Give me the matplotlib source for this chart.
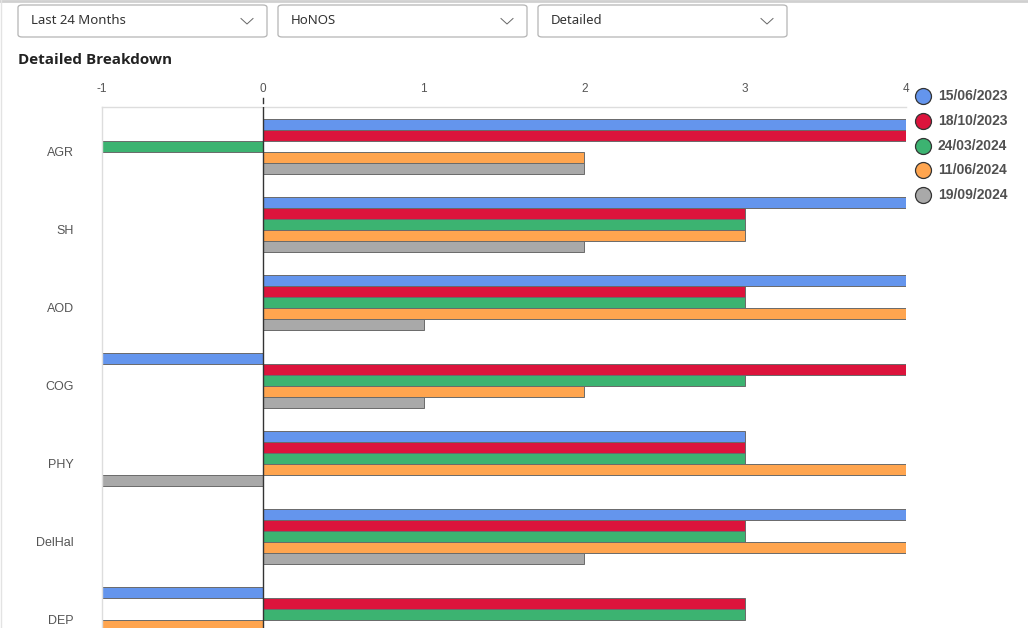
import numpy as np
import matplotlib.pyplot as plt
from matplotlib.patches import FancyBboxPatch
from matplotlib.lines import Line2D
import matplotlib.transforms as mtransforms

categories = ["AGR", "SH", "AOD", "COG", "PHY", "DelHal", "DEP"]
dates = ["15/06/2023", "18/10/2023", "24/03/2024", "11/06/2024", "19/09/2024"]
colors = ["#6495ed", "#dc143c", "#3cb371", "#ffa54f", "#a9a9a9"]

scores = {
    "15/06/2023": [4, 4, 4, -1, 3, 4, -1],
    "18/10/2023": [4, 3, 3, 4, 3, 3, 3],
    "24/03/2024": [-1, 3, 3, 3, 3, 3, 3],
    "11/06/2024": [2, 3, 4, 2, 4, 4, -1],
    "19/09/2024": [2, 2, 1, 1, -1, 2, 2],
}

x_ticks = [-1, 0, 1, 2, 3, 4]
dropdowns = ["Last 24 Months", "HoNOS", "Detailed"]

W, H = 1028, 628
fig = plt.figure(figsize=(W / 100, H / 100), dpi=100)
plt.rcParams["font.family"] = ["Liberation Sans", "DejaVu Sans"]


def fx(px):
    return px / W


def fy(py):
    return 1 - py / H


# page chrome
fig.add_artist(Line2D([0, 1], [fy(0.5), fy(0.5)], color="#d0d0d0", lw=2))
fig.add_artist(Line2D([fx(0.5), fx(0.5)], [0, 1], color="#e3e3e3", lw=1))

for i, label in enumerate(dropdowns):
    x0 = 18 + i * 260
    box = FancyBboxPatch((fx(x0), fy(37)), fx(249), 32 / H,
                         boxstyle="round,pad=0,rounding_size=0.004",
                         transform=fig.transFigure, facecolor="white",
                         edgecolor="#b4b4b4", lw=0.9)
    fig.add_artist(box)
    fig.text(fx(x0 + 13), fy(21), label, fontsize=9.5, color="#333333",
             family=["Noto Sans", "DejaVu Sans"], va="center", ha="left")
    cx = x0 + 229
    fig.add_artist(Line2D([fx(cx - 6), fx(cx), fx(cx + 6)],
                          [fy(18.5), fy(24), fy(18.5)], color="#666666", lw=0.7))

fig.text(fx(18), fy(60), "Detailed Breakdown", fontsize=11, fontweight="bold",
         color="#222222", family=["Open Sans", "DejaVu Sans"],
         va="center", ha="left")

# chart area
pitch = 78.0
ax_top, ax_bot = 107, 628
ax = fig.add_axes([fx(102), 0, fx(906 - 102), fy(ax_top)])
ylow = -0.5 + (ax_bot - ax_top) / pitch
ax.set_xlim(-1, 4)
ax.set_ylim(ylow, -0.5)

bar_h = 11 / pitch
y = np.arange(len(categories))
for j, d in enumerate(dates):
    ax.barh(y + (j - 2) * bar_h, scores[d], height=bar_h, color=colors[j],
            edgecolor="#6a6a6a", linewidth=0.7, zorder=2)

ax.axvline(0, color="#333333", lw=1.0, zorder=3)

for s in ["right", "bottom"]:
    ax.spines[s].set_visible(False)
ax.spines["top"].set_color("#dddddd")
ax.spines["left"].set_color("#dddddd")
ax.spines["top"].set_linewidth(1)
ax.spines["left"].set_linewidth(1)

ax.xaxis.tick_top()
ax.set_xticks(x_ticks)
ax.set_xticklabels([str(t) for t in x_ticks])
ax.tick_params(axis="x", length=0, pad=8.5, labelsize=8.5, labelcolor="#555555")
ax.set_yticks([])

trans = mtransforms.blended_transform_factory(ax.transData, ax.transAxes)
ax.plot([0, 0], [1 + 4 / 521, 1 + 9 / 521], color="#333333", lw=1,
        transform=trans, clip_on=False)

ytrans = mtransforms.blended_transform_factory(ax.transAxes, ax.transData)
for i, c in enumerate(categories):
    ax.text(-28 / 804, i + 6.5 / pitch, c, transform=ytrans, ha="right",
            va="center", fontsize=9, color="#555555")

# legend
for j, d in enumerate(dates):
    cy = 96 + j * 24.75
    fig.add_artist(Line2D([fx(923)], [fy(cy)], marker="o", markersize=11.5,
                          markerfacecolor=colors[j], markeredgecolor="#333333",
                          markeredgewidth=0.9, linestyle="none"))
    fig.text(fx(938), fy(cy), d, fontsize=10, fontweight="bold",
             color="#505050", va="center", ha="left")

fig.savefig("out.png", dpi=100)
